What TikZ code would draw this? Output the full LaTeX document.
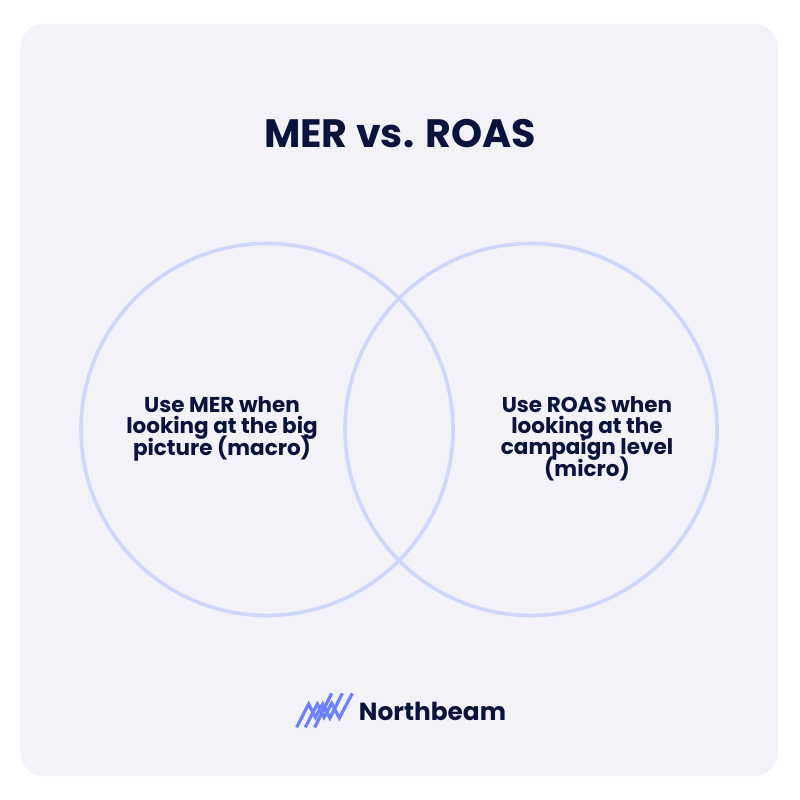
\documentclass[tikz,border=0pt]{standalone}
\usepackage{fontspec}
\setmainfont{Poppins}
\definecolor{pagebg}{HTML}{FFFFFF}
\definecolor{cardbg}{HTML}{F3F2F8}
\definecolor{ink}{HTML}{0A133C}
\definecolor{ringc}{HTML}{D0D7FD}
\definecolor{logoc}{HTML}{6B80FF}
\newcommand{\lblfont}{\fontsize{21.5}{21.3}\selectfont\bfseries\setlength{\lineskiplimit}{-20pt}}
\tikzset{
  x=1pt,y=-1pt,
  ring/.style={draw=ringc,line width=3.6pt,fill=none,circle,minimum size=372pt,inner sep=0pt},
  lbl/.style={text=ink,align=center,font=\lblfont,inner sep=0pt},
  logoline/.style={draw=logoc,line width=3.2pt,line join=miter}
}
\begin{document}
\begin{tikzpicture}
\useasboundingbox (0,0) rectangle (800,800);
\fill[pagebg] (0,0) rectangle (800,800);
\fill[cardbg,rounded corners=24pt] (20,24) rectangle (778,776);
\node[text=ink,font=\fontsize{39.6}{42}\selectfont\bfseries,inner sep=0pt] (title) at (400,134) {MER vs. ROAS};
\node[ring] (left) at (267,429.5) {};
\node[ring] (right) at (531,429.5) {};
\node[lbl,anchor=north] (ltext) at (222,396.5) {Use MER when\\looking at the big\\picture (macro)};
\node[lbl,anchor=north] (rtext) at (587,396) {Use ROAS when\\looking at the\\campaign level\\(micro)};
\begin{scope}[shift={(280,680)},scale=1/3]
\draw[logoline] (50,142) -- (86,72) -- (106,112) -- (128,72) -- (150,114) -- (187,40);
\draw[logoline] (76,142) -- (112,72) -- (132,112) -- (155,70) -- (178,114) -- (217,40);
\draw[logoline] (104,142) -- (155,40);
\end{scope}
\node[text=ink,font=\fontsize{24.8}{28}\selectfont\bfseries,inner sep=0pt] (brand) at (432.5,711) {Northbeam};
\end{tikzpicture}
\end{document}
